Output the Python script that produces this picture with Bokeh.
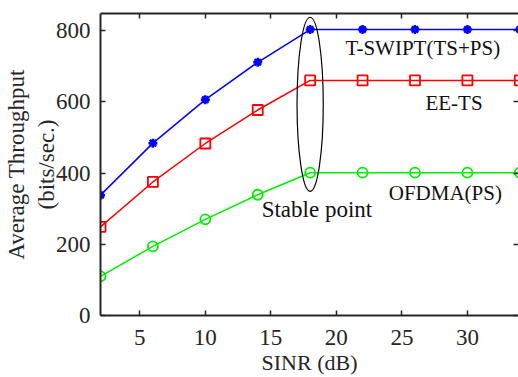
from bokeh.plotting import figure
from bokeh.models import Range1d, LinearAxis, FixedTicker, Label
from bokeh.embed import file_html
from bokeh.resources import INLINE

sinr = [2, 6, 10, 14, 18, 22, 26, 30, 34]
tswipt = [338, 484, 606, 711, 803, 803, 803, 803, 803]
eets = [249, 375, 483, 577, 660, 660, 660, 660, 660]
ofdma = [110, 194, 270, 339, 401, 401, 401, 401, 401]

x_ticks = [5, 10, 15, 20, 25, 30]
y_ticks = [0, 200, 400, 600, 800]

labels = ["T-SWIPT(TS+PS)", "EE-TS", "OFDMA(PS)", "Stable point"]
label_x = [20.7, 26.8, 24.0, 14.3]
label_y = [750, 598, 345, 298]
label_sizes = ["21px", "21px", "21px", "23px"]

ell_x, ell_y, ell_w, ell_h = 18, 593, 2.0, 489

FONT = "Liberation Serif"
AX = "#262626"

p = figure(width=518, height=377, output_backend="svg", toolbar_location=None,
           x_range=Range1d(2, 33.9), y_range=Range1d(0, 848),
           min_border_left=98, min_border_right=0, min_border_top=13, min_border_bottom=62)
p.outline_line_color = None
p.grid.visible = False
p.background_fill_color = "white"

for ax in (p.xaxis[0], p.yaxis[0]):
    ax.axis_line_color = AX
    ax.axis_line_width = 2
    ax.major_tick_in = 5
    ax.major_tick_out = 0
    ax.minor_tick_line_color = None
    ax.major_tick_line_color = AX
    ax.major_tick_line_width = 1.5
    ax.major_label_text_font = FONT
    ax.major_label_text_font_size = "23px"
    ax.major_label_text_color = AX
    ax.axis_label_text_font = FONT
    ax.axis_label_text_font_size = "23px"
    ax.axis_label_text_font_style = "normal"
    ax.axis_label_text_color = AX

p.xaxis[0].ticker = FixedTicker(ticks=x_ticks)
p.yaxis[0].ticker = FixedTicker(ticks=y_ticks)
p.xaxis[0].axis_label = "SINR (dB)"
p.yaxis[0].axis_label = "Average Throughput\n(bits/sec.)"
p.xaxis[0].major_label_standoff = 14
p.yaxis[0].major_label_standoff = 10
p.xaxis[0].axis_label_standoff = 2
p.yaxis[0].axis_label_standoff = -6
p.xaxis[0].axis_label_text_font_size = "22px"

top = LinearAxis(ticker=FixedTicker(ticks=x_ticks), major_tick_in=5, major_tick_out=0,
                 axis_line_color=AX, axis_line_width=2, major_tick_line_color=AX,
                 major_tick_line_width=1.5, minor_tick_line_color=None,
                 major_label_overrides={t: "" for t in x_ticks},
                 major_label_text_font_size="1px", major_label_standoff=0)
p.add_layout(top, "above")

right = LinearAxis(ticker=FixedTicker(ticks=y_ticks), major_tick_in=5, major_tick_out=0,
                   axis_line_color=None, major_tick_line_color=AX,
                   major_tick_line_width=1.5, minor_tick_line_color=None,
                   major_label_overrides={t: "" for t in y_ticks},
                   major_label_text_font_size="1px", major_label_standoff=0)
p.add_layout(right, "right")

p.line(sinr, tswipt, color="#0000FF", line_width=1.5)
p.scatter(sinr, tswipt, marker="asterisk", size=9, line_color="#0000FF", line_width=2.5)
p.line(sinr, eets, color="#FF0000", line_width=1.5)
p.scatter(sinr, eets, marker="square", size=10, line_color="#FF0000", fill_color=None, line_width=1.8)
p.line(sinr, ofdma, color="#00EE00", line_width=1.5)
p.scatter(sinr, ofdma, marker="circle", size=10, line_color="#00EE00", fill_color=None, line_width=1.8)

p.ellipse(x=[ell_x], y=[ell_y], width=[ell_w], height=[ell_h], fill_color=None,
          line_color="black", line_width=1.2)

for t, lx, ly, fs in zip(labels, label_x, label_y, label_sizes):
    p.add_layout(Label(x=lx, y=ly, text=t, text_font=FONT, text_font_size=fs,
                       text_color="#111111", text_align="left", text_baseline="middle"))

open("out.html", "w").write(file_html(p, INLINE))
